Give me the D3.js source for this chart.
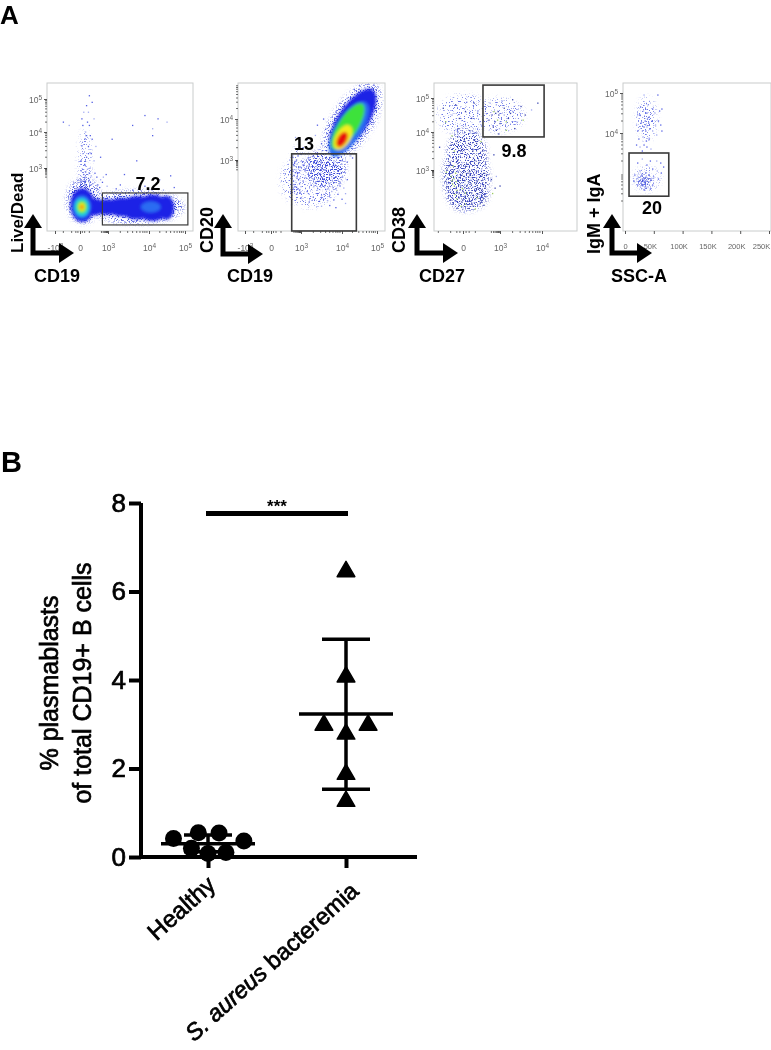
<!DOCTYPE html>
<html>
<head>
<meta charset="utf-8">
<script src="https://cdn.jsdelivr.net/npm/d3@7"></script>
<style>
  html, body { margin: 0; background: #fff; }
  text { font-family: "Liberation Sans", Arial, sans-serif; fill: #000; }
</style>
</head>
<body>
<div id="chart"></div>
<script>
// flow panels: gates and percentages, x/y in axis units (decades, or K for SSC-A)
const gateLabels = ["7.2", "13", "9.8", "20"]
const xNames = ["CD19", "CD19", "CD27", "SSC-A"]
const yNames = ["Live/Dead", "CD20", "CD38", "IgM + IgA"]
const gates = [
  [2.4, 1.08, 5.08, -1.38],
  [2.07, 3.15, 4.41, -2.07],
  [1.62, 5.38, 4.05, 3.87],
  [7, 3.5, 76, 2.42]
]

// density blobs: x, y, half width, half height (decades), angle, density level
const blobs1 = [
  [0.25, 0.15, 1.35, 1.3, 0, 0], [1.5, 0, 1.1, 0.65, 0, 0], [2.4, 0, 0.8, 0.55, 0, 0],
  [3, 0, 0.5, 0.6, 0, 0], [3.35, 0, 0.4, 0.72, 0, 0], [3.7, -0.05, 0.4, 0.9, 0, 0],
  [4.1, -0.05, 0.42, 1.02, 0, 0], [4.48, -0.05, 0.22, 0.92, 0, 0], [4.05, 0, 0.26, 0.42, 0, 1],
  [0.2, 0, 1.0, 0.88, 0, 1], [0.2, 0, 0.8, 0.7, 0, 2], [0.2, 0, 0.6, 0.5, 0, 3],
  [0.2, 0, 0.36, 0.32, 0, 4], [0.2, 0, 0.15, 0.13, 0, 5]
]
const blobs2 = [
  [4.3, 3.95, 1.0, 0.42, -57, 0], [4.2, 3.75, 0.85, 0.34, -57, 1],
  [4.17, 3.82, 0.72, 0.27, -57, 3], [4.03, 3.55, 0.36, 0.2, -60, 4],
  [4.0, 3.5, 0.22, 0.12, -60, 5]
]
const blobs3 = []
const blobs4 = []

// thin clouds of events: same columns, level picks the tint and how thin it is
const cloud1 = [[0.4, 0.5, 1.9, 1.7, 0, 6], [3.7, 0, 1.55, 1.25, 0, 6], [0.5, 3, 0.7, 1.6, 0, 7]]
const cloud2 = [[4.3, 3.95, 1.15, 0.55, -57, 6], [3.2, 1.5, 1.05, 1.7, 0, 7], [2.6, 2.6, 0.5, 0.9, 0, 7], [3.6, 2.4, 0.5, 1.0, 0, 6]]
const cloud3 = [[-0.1, 2.4, 1.5, 1.75, 0, 8], [0.8, 2.2, 1.35, 1.7, 0, 8], [0.35, 0.7, 1.7, 1.5, 0, 8], [0.3, 3.4, 1.6, 0.85, 0, 8], [0.1, 4.5, 2.2, 0.6, 0, 7], [2.9, 4.5, 1.0, 0.5, 0, 7]]
const cloud4 = [[37, 4.35, 18, 0.55, 0, 7], [38, 2.85, 24, 0.3, 0, 7], [32, 2.8, 12, 0.15, 0, 6], [38, 4.35, 8, 0.3, 0, 7]]

// single events
const dots1 = [[0.3,3.4],[0.5,3.1],[0.9,3.6],[0.6,4],[1.0,4.2],[0.2,4.4],[0.9,4.6],[1.3,3.8],[0.5,3.8],[1.1,3],[1.3,4.9],[0.1,3.2],
  [0.8,2.9],[1.6,2.6],[0.4,2.5],[1.2,2.4],[0.7,4.8],[1.0,5.1],[1.5,4.4],[0.3,4.2],[1.8,2.3],[2.2,2.1],[0.7,3.3],[1.2,3.4],[1.5,3.2],
  [0.1,2.8],[0.9,2.2],[0.4,2.1],[0.6,2],[1.1,1.9],[1.4,1.8],[1.9,1.7],[2.4,1.9],[2.9,1.6],[3.2,1.4],[0.2,2],[-0.2,2.1],[2.1,1.5],
  [-2,4.3],[-1.3,4.2],[3.9,4.5],[3.6,4.2],[4.5,4.3],[4.1,3.9],[4.25,4.4],[4.1,4.1],[3.7,3.2],[4.6,2.4],[4.3,2.1],[3.4,2.5],[3.9,1.6],
  [4.4,1.3],[4.7,1.5],[3.6,1.3],[4.1,1.4],[3.3,1.7],[2.8,2.5],[2.5,2.3],[2.2,3.3],[3.1,3.8],[1.7,3.6],[0.6,2.7],[1.0,2.6],[0.2,3.6],
  [0.7,3.9],[1.1,3.9],[0.4,4.6],[0.8,4.3],[0.9,3.4],[0.6,2.3]]
const dots2 = [[2.2,3.1],[2.4,2.9],[2.7,3.1],[3,2.9],[3.3,3.1],[2.3,2.6],[2.6,2.7],[2.9,2.5],[3.2,2.7],[3.5,2.9],[3.7,3],[2.2,2.2],
  [2.5,2.3],[2.8,2.1],[3.1,2.3],[3.4,2.4],[3.6,2.5],[3.85,2.6],[4.0,2.7],[2.3,1.9],[2.6,1.8],[2.9,1.7],[3.2,1.9],[3.45,2],[3.7,2.1],
  [3.9,2.2],[2.25,1.5],[2.5,1.4],[2.85,1.3],[3.05,1.5],[3.3,1.6],[3.55,1.6],[3.8,1.7],[4.0,1.8],[2.4,1.1],[2.7,0.95],[3,1.1],[3.25,1.2],
  [3.5,1.25],[3.7,1.3],[3.95,1.35],[4.15,1.6],[2.6,0.6],[2.9,0.7],[3.15,0.75],[3.4,0.85],[3.6,0.9],[3.85,0.95],[4.05,1],[3,0.3],[3.3,0.35],
  [3.5,0.45],[3.7,0.5],[3.9,0.55],[4.1,0.6],[3.2,0],[3.45,0.05],[3.65,0.1],[3.8,0.15],[4,0.2],[3.5,-0.3],[3.7,-0.25],[3.85,-0.4],[4.1,-0.1],
  [2.35,2.75],[2.55,3],[2.75,2.35],[3.05,2.65],[3.35,2.75],[3.6,2.3],[2.45,2.1],[2.65,2.05],[2.95,2.25],[3.25,2.15],[3.55,1.85],[3.75,1.8],
  [2.3,1.25],[2.75,1.6],[3.1,1.75],[3.35,1.35],[3.6,1.4],[3.9,1.55],[2.55,1.05],[2.85,0.85],[3.2,0.55],[3.4,0.6],[3.55,0.2],[3.75,0.75],[3.95,1.15],
  [3.15,3.5],[3.35,3.6],[3.5,3.4],[3.6,3.75],[3.75,3.55],[3.4,3.85],[3.55,4],[3.75,4.05],[3.85,4.2],[3.95,4.45],[4.15,4.6],[4.35,4.85],[4.5,4.95],
  [4.65,4.9],[4.75,4.7],[4.8,4.4],[4.7,4.2],[4.6,3.9],[4.5,3.6],[4.4,3.3],[4.3,3.05],[4.45,4.0],[4.6,4.5],[4.85,4.85],[3.7,3.35],[3.85,3.15],
  [3.95,3.95],[4.1,4.25],[4.25,3.1],[4.15,2.85],[4.0,2.95],[3.8,2.85],[4.05,4.35],[3.9,3.05],[2.45,3.55],[2.85,3.5],[3.05,3.3],[2.2,1.05],[2.35,0.75]]
const dots3 = [[-0.9,3.9],[-0.4,4.1],[0.1,3.8],[0.6,4.0],[1.1,3.7],[1.6,3.5],[-1.2,3.4],[-0.7,3.5],[-0.2,3.5],[0.3,3.4],[0.8,3.5],[1.3,3.2],
  [1.8,3.1],[-1.3,3],[-0.8,3.1],[-0.3,3],[0.2,3.1],[0.7,3],[1.2,2.9],[1.7,2.7],[-1.1,2.6],[-0.6,2.7],[-0.1,2.5],[0.4,2.7],[0.9,2.5],[1.4,2.4],
  [1.9,2.5],[-1.25,2.2],[-0.75,2.2],[-0.25,2.3],[0.25,2.2],[0.75,2.3],[1.25,2.1],[1.75,2.2],[-1.05,1.8],[-0.55,1.9],[-0.05,1.8],[0.45,1.9],
  [0.95,1.8],[1.45,1.7],[1.85,1.8],[-1.2,1.4],[-0.7,1.5],[-0.2,1.4],[0.3,1.5],[0.8,1.4],[1.3,1.3],[1.8,1.3],[-1.0,1],[-0.5,1.1],[0,1],[0.5,1.1],
  [1,1],[1.5,0.9],[2.0,1],[-1.15,0.6],[-0.65,0.7],[-0.15,0.6],[0.35,0.7],[0.85,0.6],[1.35,0.5],[1.85,0.5],[-1,0.2],[-0.5,0.3],[0,0.2],[0.5,0.3],
  [1,0.2],[1.5,0.1],[-0.8,-0.2],[-0.3,-0.15],[0.2,-0.2],[0.7,-0.1],[1.2,-0.25],[1.7,-0.3],[-0.5,-0.6],[0,-0.55],[0.5,-0.6],[1,-0.65],[0.1,-0.95],
  [-0.95,3.65],[-0.5,3.75],[-0.05,3.65],[0.45,3.7],[0.95,3.8],[1.45,3.75],[-1.05,3.2],[-0.55,3.3],[-0.1,3.2],[0.4,3.15],[0.95,3.25],[1.5,3],
  [-1.35,2.8],[-0.9,2.85],[-0.45,2.85],[0.05,2.8],[0.55,2.85],[1.05,2.7],[1.55,2.55],[-0.95,2.4],[-0.45,2.45],[0.1,2.4],[0.6,2.5],[1.1,2.3],[1.6,2.05],
  [-1.4,1.95],[-0.9,2],[-0.4,2.05],[0.15,2],[0.65,2.05],[1.15,1.95],[1.65,1.5],[-1.3,1.65],[-0.85,1.7],[-0.35,1.65],[0.15,1.65],[0.65,1.7],[1.15,1.55],
  [-1.05,1.2],[-0.55,1.3],[-0.05,1.25],[0.45,1.3],[1.1,1.2],[1.55,1.15],[-1.3,0.85],[-0.8,0.85],[-0.3,0.85],[0.2,0.85],[0.7,0.85],[1.2,0.75],[-0.85,0.45],
  [-0.35,0.45],[0.15,0.45],[0.65,0.45],[1.15,0.4],[1.65,0.3],[-0.6,0.05],[-0.1,0],[0.4,0.05],[0.9,-0.05],[1.4,-0.1],[-0.15,-0.4],[0.35,-0.4],[0.85,-0.4],
  [2.5,3.4],[2.7,2.4],[2.6,1.3],[3.0,1.5],[2.4,0.8],[2.3,2.1],[-1.6,4.7],[-0.9,4.5],[0.2,4.6],[0.7,4.4],[1.2,4.6],[-1.4,4.3],[-0.3,4.4],[1.5,4.2],[-0.6,4.8],[0.9,4.85],[1.35,4.3],[-1.9,3.6],
  [2.5,4.6],[2.7,4.8],[2.9,4.5],[3.1,4.7],[3.3,4.6],[3.5,4.75],[2.6,4.3],[2.8,4.35],[3.0,4.25],[3.2,4.4],[3.4,4.3],[3.6,4.5],[2.7,4.05],[2.95,4.1],[3.15,4.05],[3.35,4.1],
  [2.2,4.85],[2.35,4.5],[2.45,4.15],[3.05,4.9],[3.3,4.95],[3.55,4.35],[3.75,4.65],[3.9,4.85],[2.85,4.6],[3.1,4.5],[3.25,4.55],[2.9,3.95],[3.15,4.3],[2.1,4.35],[2.65,4.55]]
const dots4 = [[33,4.95],[57,4.95],[27,4.65],[40,4.7],[48,4.6],[25,4.45],[32,4.55],[38,4.5],[42,4.4],[52,4.5],[60,4.55],[64,4.6],[20,4.2],[28,4.25],[35,4.3],
  [38,4.15],[41,4.25],[47,4.3],[53,4.2],[58,4.3],[22,4.05],[30,4.05],[36,4.05],[43,4.1],[48,4.05],[62,4.2],[24,3.85],[31,3.9],[37,3.8],[42,3.85],[55,3.95],[64,4.05],
  [20,3.7],[26,3.65],[33,3.7],[38,3.65],[45,3.6],[30,3.55],[39,4.35],[36,4.2],[33,4.15],
  [22,3.25],[30,3.35],[38,3.2],[48,3.1],[55,3.3],[62,3.25],[67,3.15],[56,3.05],[63,3],[44,3.3],[26,3.05],[36,3],[17,2.95],[23,2.9],[29,2.95],[33,2.85],[37,2.9],[41,2.95],
  [45,2.85],[50,2.9],[58,2.85],[15,2.8],[20,2.85],[25,2.8],[28,2.75],[32,2.78],[35,2.8],[39,2.72],[43,2.78],[48,2.7],[22,2.7],[27,2.65],[31,2.68],[36,2.62],[40,2.65],[30,2.85],[34,2.72],[38,2.82],[33,2.58],[44,2.6]]

// scatter plot B
const groupNames = ["Healthy", "S. aureus bacteremia"]
const healthyX = [-0.25, -0.07, 0.08, 0.26, -0.12, 0, 0.13]
const healthyY = [0.42, 0.55, 0.54, 0.36, 0.2, 0.08, 0.1]
const healthyStats = {mean: 0.3, low: 0.12, high: 0.5}
const bacteremiaX = [0, 0, -0.16, 0.16, 0, 0, 0]
const bacteremiaY = [6.45, 4.07, 2.98, 2.98, 2.78, 1.87, 1.26]
const bacteremiaStats = {mean: 3.23, low: 1.53, high: 4.92}
const yTicks = [0, 2, 4, 6, 8]

const levelColors = ["#1f22e6", "#2a6cf2", "#22d6e4", "#3ce23a", "#f4ee1e", "#e81010", "#3a48d8", "#6a76e6", "#3c48c0"]
const minorDecades = [0.3, 0.48, 0.6, 0.7, 0.78, 0.85, 0.9, 0.95]

const svg = d3.select("#chart").append("svg").attr("width", 771).attr("height", 1050).style("display", "block")
const defs = svg.append("defs")
const blurFilter = (id, sd) => defs.append("filter").attr("id", id)
  .attr("x", "-30%").attr("y", "-30%").attr("width", "160%").attr("height", "160%")
  .append("feGaussianBlur").attr("stdDeviation", sd)
blurFilter("soft", 0.6)
blurFilter("softB", 0.45)
blurFilter("cloud", 1.8)

// grainy look for the thin event clouds
const grainFilter = (id, seed, cut) => {
  const f = defs.append("filter").attr("id", id)
    .attr("x", "-30%").attr("y", "-30%").attr("width", "160%").attr("height", "160%")
    .attr("color-interpolation-filters", "sRGB")
  f.append("feGaussianBlur").attr("in", "SourceGraphic").attr("stdDeviation", 2.5).attr("result", "b")
  f.append("feTurbulence").attr("type", "fractalNoise").attr("baseFrequency", 0.75).attr("numOctaves", 2).attr("seed", seed).attr("result", "n")
  f.append("feColorMatrix").attr("in", "n").attr("type", "matrix")
    .attr("values", "0 0 0 0 0  0 0 0 0 0  0 0 0 0 0  9 0 0 0 " + cut).attr("result", "t")
  f.append("feComposite").attr("in", "b").attr("in2", "t").attr("operator", "in")
}
grainFilter("grain", 7, -4.7)
grainFilter("grainThin", 11, -5.4)

const panelA = svg.append("g").attr("filter", "url(#soft)")
const panelB = svg.append("g").attr("filter", "url(#softB)")

svg.append("text").attr("x", 0).attr("y", 23.5).attr("font-size", 26).attr("font-weight", 700).text("A")
svg.append("text").attr("x", 1).attr("y", 472).attr("font-size", 29).attr("font-weight", 700).text("B")

const decadeLabel = (sel, exp, neg) => {
  sel.text(neg ? "-10" : "10")
  sel.append("tspan").attr("dy", -3).attr("font-size", 6.5).text(exp)
}

const panels = [
  {box: [47, 193, 83, 231], x: d3.scaleLinear().domain([-3, 0, 3, 4, 5]).range([55, 80, 108, 149, 185]),
   y: d3.scaleLinear().domain([0, 3, 4, 5]).range([207, 168, 132, 99]),
   xt: [[-3, "3", true], [0], [3, "3"], [4, "4"], [5, "5"]], yt: [3, 4, 5], blobs: blobs1, cloud: cloud1, dots: dots1,
   label: [148, 190], arrow: [33, 253, 214, 74], xName: [57, 282], yName: [23, 253]},
  {box: [238, 385, 83, 231], x: d3.scaleLinear().domain([-3, 0, 3, 4, 5]).range([245, 271, 301, 342, 377]),
   y: d3.scaleLinear().domain([0, 3, 4, 5]).range([202, 160, 119, 84]),
   xt: [[-3, "3", true], [0], [3, "3"], [4, "4"], [5, "5"]], yt: [3, 4], blobs: blobs2, cloud: cloud2, dots: dots2,
   label: [304, 150], arrow: [223, 254, 214, 263], xName: [250, 282], yName: [213, 253]},
  {box: [434, 577, 83, 231], x: d3.scaleLinear().domain([0, 3, 4]).range([463, 500, 542]),
   y: d3.scaleLinear().domain([0, 3, 4, 5]).range([202, 170, 132, 98]),
   xt: [[0], [3, "3"], [4, "4"]], yt: [3, 4, 5], blobs: blobs3, cloud: cloud3, dots: dots3,
   label: [514, 157], arrow: [417, 253, 214, 458], xName: [442, 282], yName: [405, 253]},
  {box: [623, 771, 83, 231], x: d3.scaleLinear().domain([0, 250]).range([625, 769]),
   y: d3.scaleLinear().domain([3, 4, 5]).range([173, 133, 93]),
   xk: [0, 50, 100, 150, 200, 250], yt: [4, 5], blobs: blobs4, cloud: cloud4, dots: dots4,
   label: [652, 214], arrow: [612, 253, 214, 652], xName: [639, 282], yName: [600, 254]}
]

const blobAttrs = (sel, p) => sel
  .attr("transform", d => "translate(" + p.x(d[0]) + "," + p.y(d[1]) + ") rotate(" + d[4] + ")")
  .attr("rx", d => Math.abs(p.x(d[0] + d[2]) - p.x(d[0] - d[2])) / 2)
  .attr("ry", d => d[4] ? Math.abs(p.x(d[0] + d[3]) - p.x(d[0] - d[3])) / 2 : Math.abs(p.y(d[1] + d[3]) - p.y(d[1] - d[3])) / 2)
  .attr("fill", d => levelColors[d[5]])

panels.forEach((p, i) => {
  const [l, r, t, b] = p.box
  const g = panelA.append("g")
  const clip = "clip" + i
  defs.append("clipPath").attr("id", clip).append("rect").attr("x", l).attr("y", t).attr("width", r - l).attr("height", b - t)

  const plot = g.append("g").attr("clip-path", "url(#" + clip + ")")
  // thin event clouds, then the dense core on top
  plot.append("g").attr("filter", "url(#grainThin)").selectAll("ellipse")
    .data(p.cloud.filter(d => d[5] === 7)).enter().append("ellipse").call(blobAttrs, p)
  plot.append("g").attr("filter", "url(#grain)").selectAll("ellipse")
    .data(p.cloud.filter(d => d[5] !== 7)).enter().append("ellipse").call(blobAttrs, p)
  plot.append("g").selectAll("rect")
    .data(p.dots).enter().append("rect")
      .attr("x", d => p.x(d[0]) - 0.6)
      .attr("y", d => p.y(d[1]) - 0.6)
      .attr("width", 1.3).attr("height", 1.3)
      .attr("fill", (d, j) => j % 7 === 0 && i === 2 ? "#9ccc60" : j % 3 === 0 ? "#a4acf2" : i === 2 ? "#3a45b0" : "#5560e4")
  plot.append("g").attr("filter", "url(#cloud)").selectAll("ellipse")
    .data(p.blobs).enter().append("ellipse").call(blobAttrs, p)

  g.append("rect").attr("x", l).attr("y", t).attr("width", r - l).attr("height", b - t)
    .attr("fill", "none").attr("stroke", "#c9cccc").attr("stroke-width", 1)

  // axes: major ticks with labels, minor ticks without
  const axisX = g.append("g").attr("transform", "translate(0," + b + ")")
  const axisY = g.append("g").attr("transform", "translate(" + l + ",0)")
  if (p.xk) {
    axisX.call(d3.axisBottom(p.x).tickValues(p.xk).tickSize(3).tickFormat(d => d === 0 ? "0" : d + "K"))
    axisX.selectAll("text").attr("font-size", 7.5).attr("dx", d => d === 250 ? -8 : d === 0 ? 0 : -4).attr("dy", 12).style("fill", "#666")
  } else {
    const xv = p.xt.map(d => d[0])
    axisX.call(d3.axisBottom(p.x).tickValues(xv).tickSize(3).tickFormat(""))
    axisX.selectAll(".tick").each(function (d, j) {
      const lab = d3.select(this).select("text").attr("font-size", 8.5).attr("dy", 14).style("fill", "#666")
      if (d === 0) lab.text("0")
      else decadeLabel(lab, p.xt[j][1], p.xt[j][2])
    })
    const minorX = p.x.domain().filter(d => d >= 3).flatMap(d => minorDecades.map(m => d - 1 + m)).filter(d => d >= 2)
    axisX.append("g").selectAll("line").data(minorX.concat([-2, -1, 1, -0.5, 0.5, 0.25, -0.25])).enter().append("line")
      .attr("x1", d => p.x(d)).attr("x2", d => p.x(d)).attr("y2", 2).attr("stroke", "#333").attr("stroke-width", 0.7)
  }
  axisY.call(d3.axisLeft(p.y).tickValues(p.yt).tickSize(3).tickFormat(""))
  axisY.selectAll(".tick").each(function (d) {
    const lab = d3.select(this).select("text").attr("font-size", 8.5).attr("x", -5).attr("dy", 3).style("fill", "#666")
    decadeLabel(lab, String(d))
  })
  const minorY = [3, 4, 5].flatMap(d => minorDecades.map(m => d - 1 + m)).filter(d => d > 1.9 && p.y(d) > t)
  axisY.append("g").selectAll("line").data(minorY).enter().append("line")
    .attr("y1", d => p.y(d)).attr("y2", d => p.y(d)).attr("x2", -2).attr("stroke", "#333").attr("stroke-width", 0.7)
  axisY.selectAll("path,.tick line").attr("stroke", "#555")
  axisX.selectAll("path,.tick line").attr("stroke", "#555")
  axisY.select("path").attr("stroke", "none")
  axisX.select("path").attr("stroke", "none")

  // gate
  const gate = gates[i]
  g.append("rect")
    .attr("x", p.x(gate[0])).attr("y", p.y(gate[1]))
    .attr("width", p.x(gate[2]) - p.x(gate[0])).attr("height", p.y(gate[3]) - p.y(gate[1]))
    .attr("fill", "none").attr("stroke", "#3a3a3a").attr("stroke-width", i === 0 ? 1.2 : 1.6)

  g.append("text").attr("x", p.label[0]).attr("y", p.label[1]).attr("text-anchor", "middle")
    .attr("font-size", 18).attr("font-weight", 700).text(gateLabels[i])

  // L shaped axis arrows
  const [ax, ay, top, tip] = p.arrow
  g.append("path").attr("d", d3.line()([[ax, top + 12], [ax, ay], [tip - 14, ay]]))
    .attr("fill", "none").attr("stroke", "#000").attr("stroke-width", 5)
  g.append("path").attr("d", d3.line()([[ax, top], [ax + 9, top + 14], [ax - 9, top + 14]]) + "Z")
  g.append("path").attr("d", d3.line()([[tip, ay], [tip - 15, ay - 10], [tip - 15, ay + 10]]) + "Z")

  g.append("text").attr("x", p.xName[0]).attr("y", p.xName[1]).attr("text-anchor", "middle")
    .attr("font-size", 18).attr("font-weight", 700).text(xNames[i])
  g.append("text").attr("transform", "translate(" + p.yName[0] + "," + p.yName[1] + ") rotate(-90)")
    .attr("font-size", i === 0 ? 17 : 18).attr("font-weight", 700).text(yNames[i])
})

// B: group comparison
const x = d3.scaleLinear().domain([0, 1]).range([208, 346])
const y = d3.scaleLinear().domain([0, 8]).range([857, 503])
const heavy = sel => sel.attr("stroke", "#000").attr("stroke-width", 0.7)

const axisLeft = panelB.append("g").attr("transform", "translate(141,0)")
  .call(d3.axisLeft(y).tickValues(yTicks).tickSize(12).tickFormat(d3.format("d")))
axisLeft.select("path").attr("stroke", "#000").attr("stroke-width", 4).attr("d", "M0,503V857")
axisLeft.selectAll(".tick line").attr("stroke", "#000").attr("stroke-width", 4)
axisLeft.selectAll("text").attr("font-size", 26).attr("x", -15).call(heavy)

const axisBottom = panelB.append("g").attr("transform", "translate(0,857)")
  .call(d3.axisBottom(x).tickValues([0, 1]).tickSize(11).tickFormat(""))
axisBottom.select("path").attr("stroke", "#000").attr("stroke-width", 4).attr("d", "M139,0H417")
axisBottom.selectAll(".tick line").attr("stroke", "#000").attr("stroke-width", 4)

const drawStats = (cx, s) => {
  const c = panelB.append("g").attr("stroke", "#000").attr("stroke-width", 3.5)
  c.append("line").attr("x1", x(cx)).attr("x2", x(cx)).attr("y1", y(s.low)).attr("y2", y(s.high))
  c.append("line").attr("x1", x(cx) - 47).attr("x2", x(cx) + 47).attr("y1", y(s.mean)).attr("y2", y(s.mean))
  ;[s.low, s.high].forEach(v => {
    c.append("line").attr("x1", x(cx) - 24).attr("x2", x(cx) + 24).attr("y1", y(v)).attr("y2", y(v))
  })
}
drawStats(0, healthyStats)
drawStats(1, bacteremiaStats)

panelB.append("g").selectAll("circle").data(healthyY).enter().append("circle")
  .attr("cx", (d, i) => x(healthyX[i])).attr("cy", d => y(d)).attr("r", 8.5).attr("fill", "#000")
panelB.append("g").selectAll("path").data(bacteremiaY).enter().append("path")
  .attr("transform", (d, i) => "translate(" + x(1 + bacteremiaX[i]) + "," + y(d) + ")")
  .attr("d", d3.symbol(d3.symbolTriangle, 135)())
  .attr("stroke", "#000").attr("stroke-width", 1.5).attr("stroke-linejoin", "round")

// significance bar
panelB.append("line").attr("x1", x(0) - 2).attr("x2", x(1) + 2).attr("y1", y(7.76)).attr("y2", y(7.76))
  .attr("stroke", "#000").attr("stroke-width", 5)
panelB.append("text").attr("x", x(0.5)).attr("y", 512).attr("text-anchor", "middle")
  .attr("font-size", 17).attr("font-weight", 700).text("***")

// axis titles
panelB.append("text").attr("transform", "translate(58,683) rotate(-90)").attr("text-anchor", "middle")
  .attr("font-size", 25).call(heavy).text("% plasmablasts")
panelB.append("text").attr("transform", "translate(91,683) rotate(-90)").attr("text-anchor", "middle")
  .attr("font-size", 25).call(heavy).text("of total CD19+ B cells")

panelB.append("text").attr("transform", "translate(" + (x(0) + 9) + ",887) rotate(-42)").attr("text-anchor", "end")
  .attr("font-size", 24).call(heavy).text(groupNames[0])
const cat = panelB.append("text").attr("transform", "translate(" + (x(1) + 14) + ",893) rotate(-42)").attr("text-anchor", "end")
  .attr("font-size", 23.5).call(heavy)
cat.append("tspan").attr("font-style", "italic").text("S. aureus")
cat.append("tspan").text(" bacteremia")
</script>
</body>
</html>
